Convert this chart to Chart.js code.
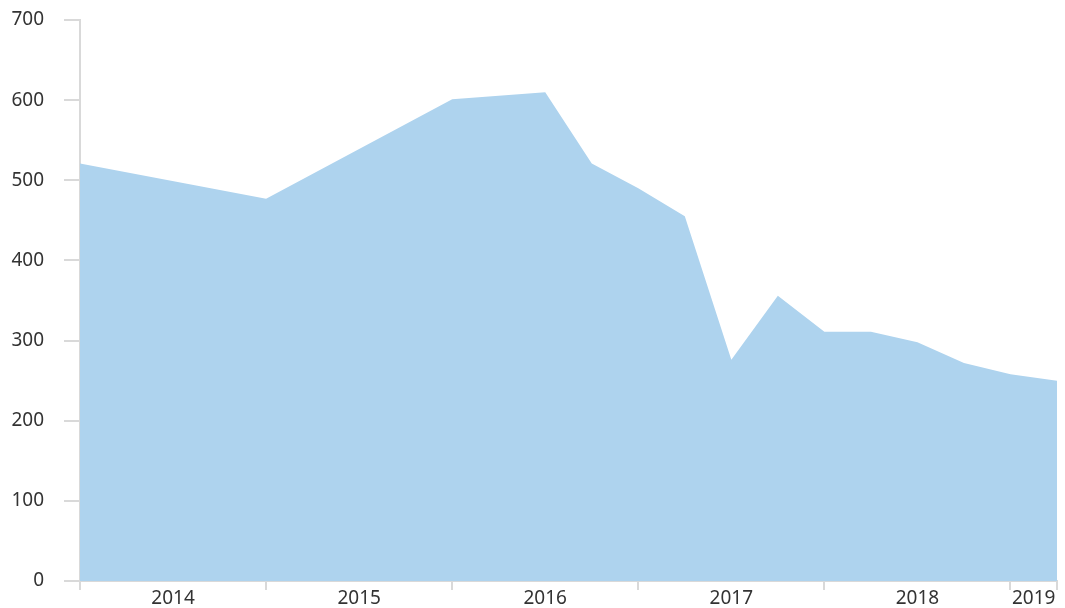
<!DOCTYPE html>
<html>
<head>
<meta charset="utf-8">
<script src="https://cdn.jsdelivr.net/npm/chart.js@4"></script>
<style>
  html, body { margin: 0; padding: 0; background: #fff; }
  #wrap { width: 1065px; height: 608px; position: relative; }
</style>
</head>
<body>
<div id="wrap"><canvas id="chart"></canvas></div>
<script>
// quarter index from Q1 2014 (0) to Q2 2019 (21)
const quarters = [0, 4, 8, 10, 11, 12, 13, 14, 15, 16, 17, 18, 19, 20, 21];
const values = [521, 477, 601, 610, 521, 490, 455, 276, 356, 311, 311, 298, 272, 258, 250];
const years = ["2014", "2015", "2016", "2017", "2018", "2019"];
const yearMid = [2, 6, 10, 14, 18, 20.5];
const yearEdges = [0, 4, 8, 12, 16, 20, 21];
const yTicks = [0, 100, 200, 300, 400, 500, 600, 700];

const axisGrey = "#d9d9d9";
const textCol = "#333333";
const font = { family: "Noto Sans", size: 19 };

new Chart(document.getElementById("chart"), {
  type: "line",
  data: {
    datasets: [{
      data: quarters.map((q, i) => ({ x: q, y: values[i] })),
      fill: "origin",
      backgroundColor: "#aed3ee",
      borderWidth: 0,
      pointRadius: 0,
      tension: 0
    }]
  },
  options: {
    responsive: true,
    maintainAspectRatio: false,
    animation: false,
    layout: { padding: { top: 0, right: 8, left: 0, bottom: 0 } },
    plugins: { legend: { display: false }, tooltip: { enabled: false } },
    scales: {
      x: {
        type: "linear",
        min: 0,
        max: 21,
        afterBuildTicks: s => {
          s.ticks = [...yearEdges, ...yearMid].sort((a, b) => a - b).map(v => ({ value: v }));
        },
        afterFit: s => { s.height = 27; },
        ticks: {
          autoSkip: false,
          maxRotation: 0,
          color: textCol,
          font: font,
          padding: -3,
          callback: v => { const i = yearMid.indexOf(v); return i >= 0 ? years[i] : ""; }
        },
        grid: {
          drawOnChartArea: false,
          tickLength: 9,
          tickColor: c => (c.tick && yearEdges.includes(c.tick.value)) ? axisGrey : "rgba(0,0,0,0)",
          lineWidth: 2
        },
        border: { color: axisGrey, width: 2 }
      },
      y: {
        min: 0,
        max: 700,
        afterBuildTicks: s => { s.ticks = yTicks.map(v => ({ value: v })); },
        afterFit: s => { s.width = 80; s.paddingTop = 20; s.paddingBottom = 0; },
        ticks: { color: textCol, font: font, padding: 20 },
        grid: { drawOnChartArea: false, tickLength: 16, tickColor: axisGrey, lineWidth: 2 },
        border: { color: axisGrey, width: 2 }
      }
    }
  }
});
</script>
</body>
</html>
